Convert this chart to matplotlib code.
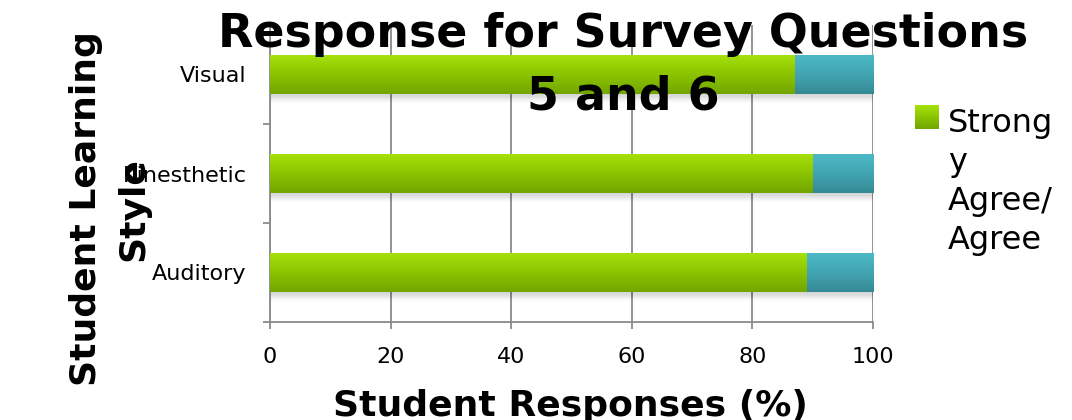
import numpy as np
import matplotlib
matplotlib.use('Agg')
import matplotlib.pyplot as plt
from matplotlib.colors import LinearSegmentedColormap

# Datos de la encuesta (preguntas 5 y 6)
estilos = ['Auditory', 'Kinesthetic', 'Visual']
de_acuerdo = [89, 90, 87]
en_desacuerdo = [11, 10, 13]
ticks_x = [0, 20, 40, 60, 80, 100]
etiqueta_leyenda = 'Strong\ny\nAgree/\nAgree'

plt.rcParams['font.family'] = ['DejaVu Sans']

verde = LinearSegmentedColormap.from_list('verde', ['#72a600', '#8cc400', '#a6e20c'])
azul = LinearSegmentedColormap.from_list('azul', ['#358a94', '#43a5b2', '#4dbac8'])
gradiente = np.linspace(0, 1, 64).reshape(-1, 1)

fig = plt.figure(figsize=(10.72, 4.2), dpi=100)
ax = fig.add_axes([270 / 1072, 1 - 322 / 420, 603 / 1072, 297 / 420])

y = np.arange(len(estilos))
alto = 0.40

# sombra suave debajo de cada barra
totales = np.array(de_acuerdo) + np.array(en_desacuerdo)
for k in range(1, 8):
    ax.barh(y - k * 0.012, totales, height=alto, color='black', alpha=0.025,
            zorder=1, linewidth=0)

barras1 = ax.barh(y, de_acuerdo, height=alto, color='#8cc400', zorder=2, linewidth=0)
barras2 = ax.barh(y, en_desacuerdo, left=de_acuerdo, height=alto, color='#43a5b2',
                  zorder=2, linewidth=0)

# relleno con degradado vertical
for barras, cmap in [(barras1, verde), (barras2, azul)]:
    for p in barras:
        x0, y0 = p.get_x(), p.get_y()
        w, h = p.get_width(), p.get_height()
        im = ax.imshow(gradiente, cmap=cmap, extent=[x0, x0 + w, y0, y0 + h],
                       origin='lower', aspect='auto', zorder=3, interpolation='bilinear')
        im.set_clip_path(p)

ax.set_xlim(0, 100)
ax.set_ylim(-0.5, 2.5)
ax.set_xticks(ticks_x)
ax.set_yticks(y)
ax.set_yticklabels(estilos)
ax.set_yticks([-0.5, 0.5, 1.5], minor=True)
ax.tick_params(axis='y', which='major', length=0, pad=17, labelsize=16)
ax.tick_params(axis='y', which='minor', length=5, width=1.3, color='#8a8a8a')
ax.tick_params(axis='x', length=5, width=1.3, color='#8a8a8a', pad=13, labelsize=16)

ax.grid(axis='x', color='#8a8a8a', linewidth=1.3, zorder=0)
ax.set_axisbelow(True)
for lado in ['top', 'right']:
    ax.spines[lado].set_visible(False)
for lado in ['left', 'bottom']:
    ax.spines[lado].set_color('#8a8a8a')
    ax.spines[lado].set_linewidth(1.3)

# titulos (va='baseline' toma la ultima linea)
fig.text(623 / 1072, 1 - 109 / 420, 'Response for Survey Questions\n5 and 6',
         ha='center', va='baseline', fontsize=33, fontweight='bold',
         multialignment='center', linespacing=1.48, zorder=10)
fig.text(570 / 1072, 1 - 416 / 420, 'Student Responses (%)', ha='center',
         va='baseline', fontsize=26, fontweight='bold')
fig.text(110 / 1072, 1 - 209 / 420, 'Student Learning\nStyle', rotation=90,
         ha='center', va='center', multialignment='center', fontsize=26,
         fontweight='bold', linespacing=1.5, zorder=10)

# leyenda
ax_ley = fig.add_axes([915 / 1072, 1 - 129 / 420, 24 / 1072, 24 / 420])
ax_ley.imshow(gradiente, cmap=verde, origin='lower', aspect='auto')
ax_ley.axis('off')
fig.text(948 / 1072, 1 - 249 / 420, etiqueta_leyenda, ha='left', va='baseline',
         fontsize=23, linespacing=1.33)

plt.savefig('out.png', dpi=100)
